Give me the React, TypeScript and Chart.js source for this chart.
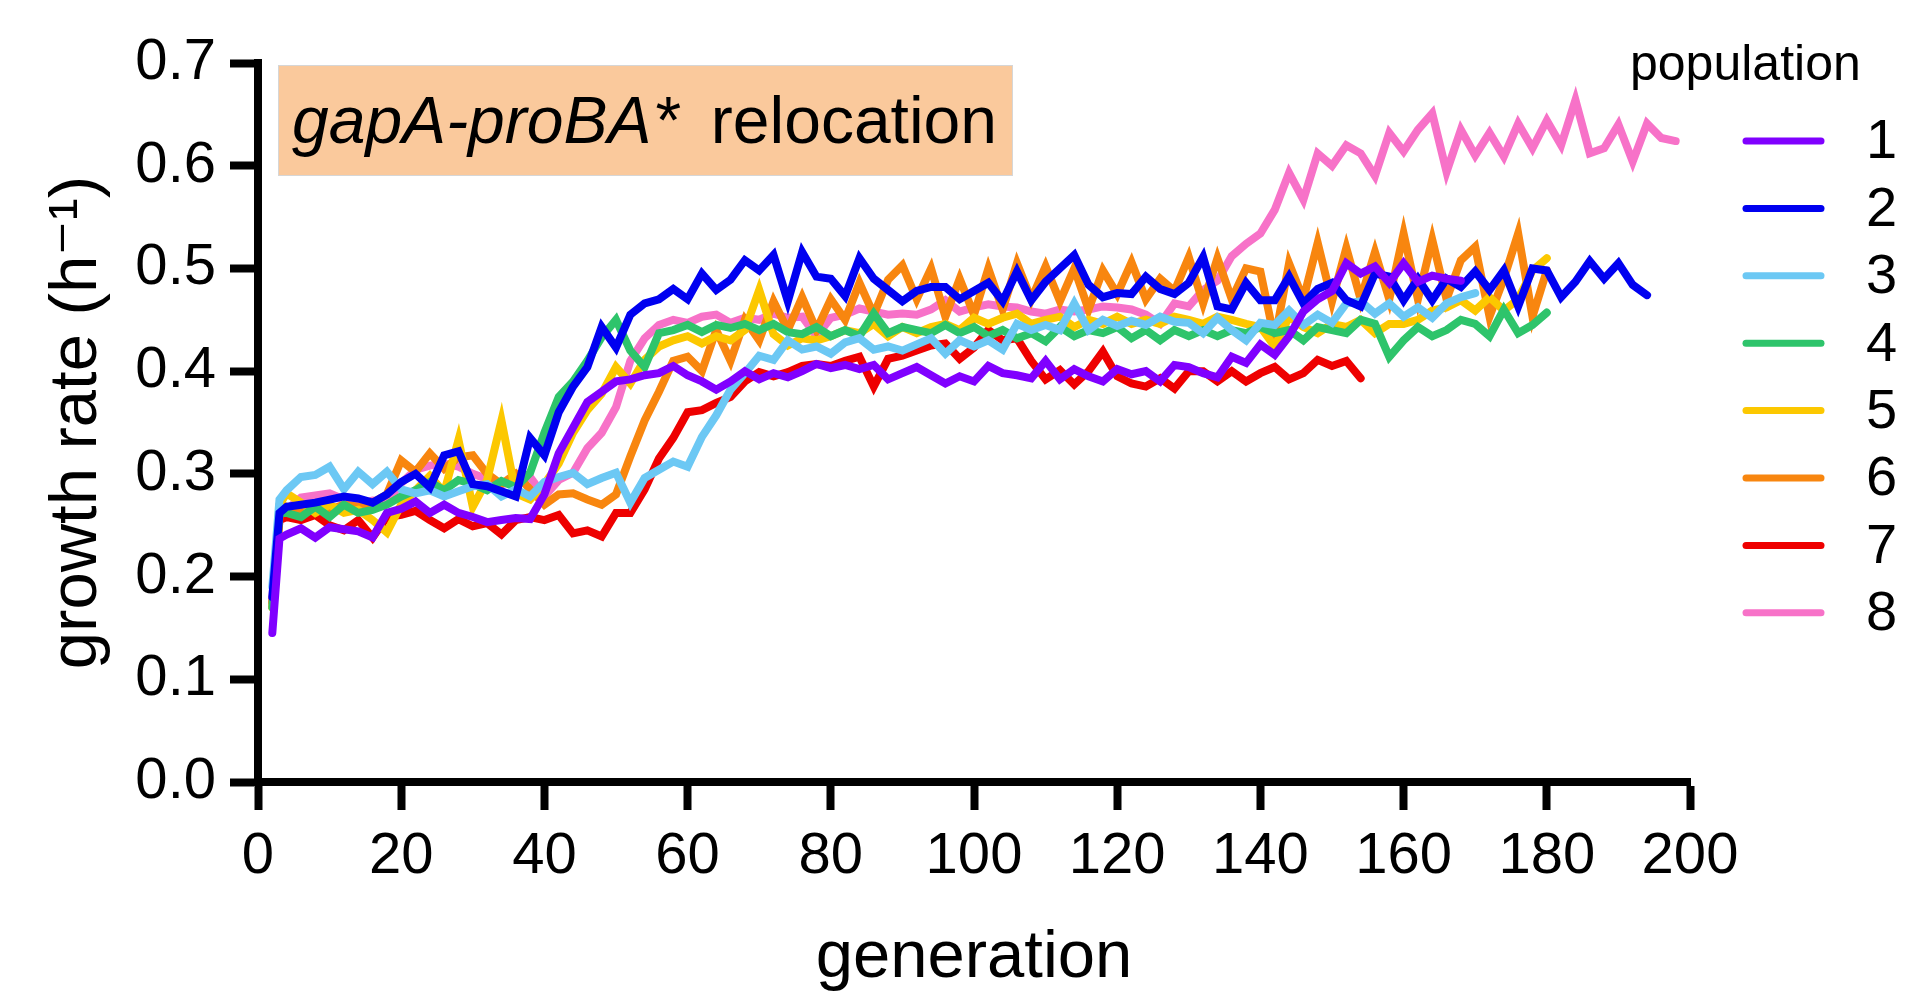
import React, { useEffect, useRef } from "react";
import { Chart, registerables } from "chart.js";

Chart.register(...registerables);

const FONT = "'Liberation Sans', Arial, 'DejaVu Sans', sans-serif";

// generation at which each value was measured (shared by all populations)
const GENERATIONS = [
  2, 3, 4, 6, 8, 10, 12, 14, 16, 18, 20, 22, 24, 26, 28, 30, 32, 34, 36, 38, 40,
  42, 44, 46, 48, 50, 52, 54, 56, 58, 60, 62, 64, 66, 68, 70, 72, 74, 76, 78, 80,
  82, 84, 86, 88, 90, 92, 94, 96, 98, 100, 102, 104, 106, 108, 110, 112, 114, 116,
  118, 120, 122, 124, 126, 128, 130, 132, 134, 136, 138, 140, 142, 144, 146, 148,
  150, 152, 154, 156, 158, 160, 162, 164, 166, 168, 170, 172, 174, 176, 178, 180,
  182, 184, 186, 188, 190, 192, 194, 196, 198, 200,
];

const POPULATION_LABELS = ["1", "2", "3", "4", "5", "6", "7", "8"];
const POPULATION_COLORS = [
  "#8000FF", "#0000F0", "#6CC8F4", "#2EC46B", "#FCC800", "#F8860F", "#EE0000", "#F772C8",
];

const POP1 = [
  0.145, 0.237, 0.241, 0.247, 0.238, 0.248, 0.246, 0.244, 0.238, 0.262, 0.266,
  0.273, 0.262, 0.27, 0.262, 0.258, 0.253, 0.255, 0.257, 0.256, 0.28, 0.32, 0.345,
  0.37, 0.38, 0.39, 0.392, 0.396, 0.398, 0.405, 0.396, 0.39, 0.382, 0.39, 0.4,
  0.392, 0.398, 0.394, 0.4, 0.407, 0.403, 0.406, 0.402, 0.406, 0.392, 0.398, 0.404,
  0.396, 0.388, 0.395, 0.39, 0.405, 0.398, 0.396, 0.393, 0.41, 0.392, 0.402, 0.395,
  0.39, 0.402, 0.397, 0.4, 0.39, 0.406, 0.404, 0.398, 0.394, 0.414, 0.408, 0.426,
  0.416, 0.434, 0.458, 0.47, 0.478, 0.505, 0.495, 0.502, 0.486, 0.505, 0.487, 0.493,
  0.49, 0.488,
];

const POP2 = [
  0.18, 0.262, 0.268, 0.27, 0.272, 0.275, 0.278, 0.276, 0.272, 0.28, 0.292, 0.3,
  0.287, 0.318, 0.322, 0.29, 0.288, 0.283, 0.278, 0.335, 0.318, 0.36, 0.385, 0.404,
  0.443, 0.423, 0.455, 0.466, 0.47, 0.48, 0.47, 0.495, 0.479, 0.489, 0.508, 0.498,
  0.513, 0.468, 0.516, 0.492, 0.49, 0.473, 0.51, 0.49, 0.479, 0.468, 0.478, 0.482,
  0.482, 0.47, 0.478, 0.486, 0.468, 0.497, 0.469, 0.487, 0.5, 0.513, 0.484, 0.472,
  0.476, 0.475, 0.492, 0.48, 0.475, 0.486, 0.511, 0.463, 0.46, 0.486, 0.469, 0.469,
  0.492, 0.466, 0.48, 0.486, 0.469, 0.463, 0.495, 0.492, 0.469, 0.49, 0.469, 0.49,
  0.482, 0.497, 0.479, 0.498, 0.463, 0.5, 0.498, 0.472, 0.487, 0.507, 0.49, 0.505,
  0.484, 0.474,
];

const POP3 = [
  0.19, 0.275, 0.284, 0.297, 0.299, 0.307, 0.285, 0.302, 0.29, 0.302, 0.285, 0.281,
  0.284, 0.278, 0.283, 0.288, 0.29, 0.278, 0.285, 0.278, 0.292, 0.297, 0.301, 0.29,
  0.296, 0.301, 0.272, 0.296, 0.304, 0.312, 0.307, 0.336, 0.357, 0.382, 0.398,
  0.415, 0.411, 0.43, 0.421, 0.424, 0.417, 0.428, 0.432, 0.421, 0.424, 0.42, 0.426,
  0.432, 0.417, 0.43, 0.424, 0.43, 0.421, 0.446, 0.44, 0.445, 0.44, 0.466, 0.44,
  0.45, 0.444, 0.449, 0.445, 0.453, 0.448, 0.447, 0.437, 0.452, 0.44, 0.43, 0.447,
  0.445, 0.459, 0.445, 0.455, 0.447, 0.466, 0.468, 0.456, 0.466, 0.453, 0.462,
  0.452, 0.466, 0.472, 0.476,
];

const POP4 = [
  0.17, 0.262, 0.262, 0.258, 0.268, 0.258, 0.27, 0.262, 0.265, 0.27, 0.278, 0.284,
  0.292, 0.284, 0.294, 0.29, 0.284, 0.293, 0.287, 0.301, 0.34, 0.375, 0.39, 0.41,
  0.433, 0.45, 0.42, 0.404, 0.437, 0.44, 0.445, 0.438, 0.445, 0.442, 0.446, 0.44,
  0.446, 0.438, 0.436, 0.443, 0.434, 0.44, 0.434, 0.456, 0.437, 0.443, 0.44, 0.437,
  0.445, 0.437, 0.443, 0.434, 0.44, 0.432, 0.437, 0.429, 0.443, 0.434, 0.44, 0.437,
  0.443, 0.432, 0.44, 0.43, 0.44, 0.434, 0.44, 0.434, 0.44, 0.437, 0.443, 0.437,
  0.44, 0.43, 0.443, 0.44, 0.437, 0.45, 0.446, 0.414, 0.43, 0.443, 0.434, 0.44,
  0.45, 0.446, 0.434, 0.46, 0.437, 0.445, 0.457,
];

const POP5 = [
  0.17, 0.27, 0.281, 0.272, 0.262, 0.27, 0.262, 0.265, 0.255, 0.243, 0.27, 0.284,
  0.298, 0.282, 0.333, 0.268, 0.294, 0.352, 0.281, 0.275, 0.29, 0.31, 0.34, 0.362,
  0.378, 0.404, 0.388, 0.411, 0.424, 0.43, 0.434, 0.427, 0.434, 0.43, 0.44, 0.479,
  0.436, 0.425, 0.432, 0.43, 0.434, 0.44, 0.437, 0.446, 0.434, 0.443, 0.437, 0.443,
  0.446, 0.44, 0.452, 0.446, 0.452, 0.456, 0.446, 0.45, 0.453, 0.443, 0.45, 0.446,
  0.453, 0.446, 0.45, 0.446, 0.453, 0.45, 0.446, 0.453, 0.45, 0.446, 0.443, 0.424,
  0.453, 0.443, 0.437, 0.446, 0.443, 0.45, 0.437, 0.446, 0.446, 0.45, 0.459, 0.462,
  0.469, 0.459, 0.472, 0.459, 0.47, 0.498, 0.51,
];

const POP6 = [
  0.17, 0.26, 0.268, 0.262, 0.27, 0.265, 0.27, 0.268, 0.272, 0.28, 0.313, 0.302,
  0.32, 0.305, 0.316, 0.318, 0.3, 0.29, 0.3, 0.285, 0.27, 0.28, 0.281, 0.275, 0.27,
  0.28, 0.317, 0.352, 0.38, 0.41, 0.414, 0.4, 0.44, 0.41, 0.45, 0.43, 0.468, 0.44,
  0.472, 0.44, 0.47, 0.45, 0.486, 0.455, 0.489, 0.503, 0.47, 0.5, 0.453, 0.49,
  0.455, 0.5, 0.46, 0.505, 0.47, 0.502, 0.468, 0.5, 0.46, 0.498, 0.475, 0.506,
  0.47, 0.49, 0.478, 0.511, 0.466, 0.51, 0.47, 0.5, 0.497, 0.43, 0.505, 0.47,
  0.525, 0.468, 0.52, 0.47, 0.516, 0.47, 0.534, 0.47, 0.528, 0.47, 0.508, 0.521,
  0.453, 0.49, 0.534, 0.453, 0.498,
];

const POP7 = [
  0.175, 0.255, 0.258, 0.255, 0.26, 0.25, 0.245, 0.255, 0.238, 0.258, 0.26, 0.264,
  0.255, 0.247, 0.256, 0.249, 0.252, 0.241, 0.255, 0.258, 0.255, 0.26, 0.242, 0.245,
  0.239, 0.262, 0.262, 0.285, 0.315, 0.335, 0.36, 0.362, 0.369, 0.375, 0.39, 0.399,
  0.395, 0.399, 0.405, 0.407, 0.405, 0.41, 0.414, 0.385, 0.412, 0.415, 0.42, 0.425,
  0.427, 0.412, 0.423, 0.44, 0.43, 0.432, 0.41, 0.392, 0.401, 0.387, 0.4, 0.419,
  0.395, 0.388, 0.385, 0.393, 0.383, 0.4, 0.4, 0.39, 0.4, 0.39, 0.398, 0.404, 0.392,
  0.398, 0.411, 0.405, 0.41, 0.393,
];

const POP8 = [
  0.18, 0.262, 0.265, 0.277, 0.279, 0.281, 0.275, 0.27, 0.274, 0.273, 0.291, 0.304,
  0.308, 0.31, 0.307, 0.3, 0.295, 0.29, 0.292, 0.297, 0.278, 0.294, 0.301, 0.325,
  0.34, 0.365, 0.41, 0.432, 0.445, 0.45, 0.447, 0.453, 0.455, 0.447, 0.452, 0.45,
  0.456, 0.452, 0.453, 0.434, 0.452, 0.455, 0.461, 0.458, 0.455, 0.456, 0.455, 0.46,
  0.469, 0.458, 0.462, 0.465, 0.463, 0.462, 0.458, 0.456, 0.46, 0.458, 0.46, 0.463,
  0.462, 0.46, 0.455, 0.446, 0.466, 0.463, 0.479, 0.488, 0.512, 0.524, 0.534, 0.557,
  0.593, 0.567, 0.612, 0.6, 0.62, 0.612, 0.59, 0.632, 0.614, 0.635, 0.651, 0.594,
  0.635, 0.61, 0.632, 0.609, 0.641, 0.617, 0.644, 0.62, 0.664, 0.612, 0.617, 0.64,
  0.604, 0.641, 0.627, 0.624,
];

const SERIES = [POP1, POP2, POP3, POP4, POP5, POP6, POP7, POP8];

const X_TITLE = "generation";
const Y_TITLE = "growth rate (h\u207B\u00B9)";
const LEGEND_TITLE = "population";
const BOX_ITALIC = "gapA-proBA";
const BOX_STAR = "*";
const BOX_PLAIN = "relocation";

const LINE_WIDTH = 8;

const overlayPlugin = {
  id: "overlay",
  afterDraw(chart: any) {
    const ctx: CanvasRenderingContext2D = chart.ctx;
    ctx.save();
    // annotation box
    ctx.fillStyle = "#FAC99C";
    ctx.fillRect(278, 65, 735, 111);
    ctx.strokeStyle = "#D6D6D6";
    ctx.lineWidth = 1;
    ctx.strokeRect(278.5, 65.5, 734, 110);
    ctx.fillStyle = "#000";
    ctx.textAlign = "left";
    ctx.textBaseline = "alphabetic";
    ctx.font = `italic 66px ${FONT}`;
    const wi = ctx.measureText(BOX_ITALIC).width;
    ctx.fillText(BOX_ITALIC, 292, 143);
    ctx.font = `66px ${FONT}`;
    ctx.fillText(BOX_STAR, 292 + wi + 4, 143);
    const w = ctx.measureText(BOX_PLAIN).width;
    ctx.fillText(BOX_PLAIN, 997 - w, 143);

    // legend
    ctx.font = `50px ${FONT}`;
    ctx.fillText(LEGEND_TITLE, 1630, 80);
    ctx.font = `56px ${FONT}`;
    chart.data.datasets.forEach((ds: any, i: number) => {
      const y = 141 + i * 67.4;
      ctx.strokeStyle = ds.borderColor;
      ctx.lineWidth = 7;
      ctx.lineCap = "round";
      ctx.beginPath();
      ctx.moveTo(1746, y);
      ctx.lineTo(1821, y);
      ctx.stroke();
      ctx.fillStyle = "#000";
      ctx.textBaseline = "middle";
      ctx.fillText(ds.label, 1866, y + 2);
    });
    ctx.restore();
  },
};

export default function App() {
  const canvasRef = useRef<HTMLCanvasElement | null>(null);

  useEffect(() => {
    const canvas = canvasRef.current;
    if (!canvas) return;
    const datasets = SERIES.map((values, i) => ({
      label: POPULATION_LABELS[i],
      data: values.map((v, k) => ({ x: GENERATIONS[k], y: v })),
      borderColor: POPULATION_COLORS[i],
      backgroundColor: POPULATION_COLORS[i],
      borderWidth: LINE_WIDTH,
      pointRadius: 0,
      tension: 0,
      borderCapStyle: "round" as const,
      borderJoinStyle: "miter" as const,
      fill: false,
    }));
    const chart = new Chart(canvas, {
      type: "line",
      data: { datasets },
      plugins: [overlayPlugin],
      options: {
        responsive: false,
        animation: false,
        elements: {
          line: { borderWidth: LINE_WIDTH, borderCapStyle: "round", borderJoinStyle: "miter" },
          point: { radius: 0 },
        },
        layout: { padding: { left: 0, top: 63, right: 216, bottom: 0 } },
        plugins: {
          legend: { display: false },
          tooltip: { enabled: false },
          title: { display: false },
        },
        scales: {
          x: {
            type: "linear",
            min: 0,
            max: 200,
            afterFit: (s: any) => {
              s.height = 210;
            },
            ticks: {
              stepSize: 20,
              color: "#000",
              padding: 12,
              font: { family: FONT, size: 58 },
              maxRotation: 0,
            },
            grid: {
              drawOnChartArea: false,
              drawTicks: true,
              tickLength: 28,
              tickWidth: 8,
              tickColor: "#000",
            },
            border: { display: true, color: "#000", width: 8 },
            title: {
              display: true,
              text: X_TITLE,
              color: "#000",
              font: { family: FONT, size: 67, lineHeight: 1.0 },
              padding: { top: 0, bottom: 0 },
            },
          },
          y: {
            type: "linear",
            min: 0,
            max: 0.7,
            afterFit: (s: any) => {
              s.width = 258;
            },
            ticks: {
              stepSize: 0.1,
              color: "#000",
              padding: 14,
              font: { family: FONT, size: 58 },
              callback: (v: any) => Number(v).toFixed(1),
            },
            grid: {
              drawOnChartArea: false,
              drawTicks: true,
              tickLength: 28,
              tickWidth: 8,
              tickColor: "#000",
            },
            border: { display: true, color: "#000", width: 8 },
            title: {
              display: true,
              text: Y_TITLE,
              color: "#000",
              font: { family: FONT, size: 67 },
              padding: { top: 37, bottom: 0 },
            },
          },
        },
      },
    });
    return () => chart.destroy();
  }, []);

  return (
    <div style={{ position: "fixed", left: 0, top: 0, width: 1906, height: 992, background: "#fff" }}>
      <canvas ref={canvasRef} width={1906} height={992} style={{ width: 1906, height: 992 }} />
    </div>
  );
}
